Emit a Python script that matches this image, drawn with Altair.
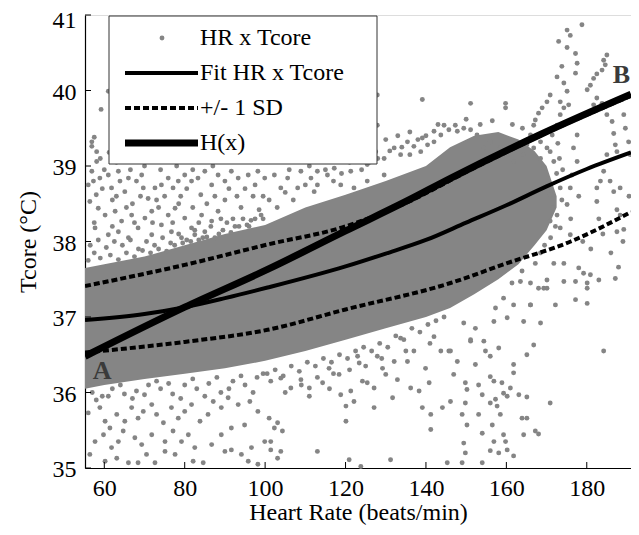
import altair as alt
import pandas as pd

FONT = "Liberation Serif"
GRAY = "#858585"

# axis ticks
hr_ticks = [60, 80, 100, 120, 140, 160, 180]
tc_ticks = [35, 36, 37, 38, 39, 40, 41]

# curves
fit_hr = [55.2, 70, 80, 90, 100.6, 120, 130, 140, 150, 160, 170, 180, 191]
fit_tc = [36.96, 37.04, 37.13, 37.25, 37.39, 37.67, 37.84, 38.02, 38.25, 38.48, 38.73, 38.96, 39.18]

sd_lo_hr = [55.2, 80, 100.6, 120, 146.1, 160, 176, 191]
sd_lo_tc = [36.53, 36.67, 36.83, 37.10, 37.45, 37.71, 38.0, 38.39]

sd_hi_hr = [55.2, 80, 100.6, 120, 135.4, 150, 170, 191]
sd_hi_tc = [37.41, 37.69, 37.96, 38.20, 38.52, 38.92, 39.44, 39.93]

h_hr = [55.2, 80, 100.6, 120, 135, 146.2, 168.6, 191]
h_tc = [36.48, 37.13, 37.63, 38.14, 38.53, 38.84, 39.42, 39.95]

# dense core of the HR x Tcore cloud (envelope)
core_hr = [55.2, 60, 70, 80, 90, 100, 110, 120, 130, 140, 146, 152, 158, 163, 167, 170, 172.5]
core_hi = [37.65, 37.7, 37.8, 37.95, 38.1, 38.22, 38.45, 38.62, 38.8, 39.0, 39.25, 39.4, 39.45, 39.35, 39.2, 39.0, 38.6]
core_lo = [36.05, 36.1, 36.18, 36.25, 36.32, 36.42, 36.55, 36.7, 36.85, 37.0, 37.12, 37.3, 37.5, 37.7, 37.95, 38.15, 38.45]

# individual HR x Tcore points outside the dense core
pts = [
    (59.2, 39.75), (61.0, 39.99), (56.9, 39.32), (56.9, 39.26), (58.1, 39.19), (58.1, 39.06), (61.2, 39.18), (57.5, 39.38),
    (56.9, 38.93), (57.3, 38.80), (58.9, 38.84), (61.0, 38.88), (61.8, 38.71), (63.5, 38.93), (63.9, 38.80), (65.1, 38.66),
    (66.0, 38.84), (68.0, 38.80), (69.3, 38.88), (69.7, 38.71), (70.9, 38.57), (72.6, 38.71), (74.2, 38.75), (75.9, 38.84),
    (77.1, 38.71), (78.4, 38.80), (80.0, 38.88), (81.7, 38.80), (83.3, 38.84), (85.0, 38.93), (86.7, 38.75), (88.3, 38.88),
    (90.0, 38.80), (91.6, 38.93), (93.3, 38.84), (95.8, 38.88), (98.2, 38.93), (99.9, 38.84),
    (56.4, 38.53), (58.5, 38.44), (60.2, 38.35), (62.7, 38.40), (64.3, 38.27), (66.8, 38.35), (68.4, 38.18), (70.1, 38.31),
    (71.8, 38.40), (74.2, 38.22), (75.9, 38.35), (77.6, 38.44), (80.0, 38.31), (81.7, 38.18), (84.2, 38.35), (86.7, 38.27),
    (88.3, 38.40), (57.7, 38.18), (61.0, 38.09), (63.5, 38.13), (66.0, 38.05), (71.8, 38.09), (76.7, 38.13), (79.2, 38.05),
    (82.5, 38.09), (85.0, 38.13), (58.0, 38.62), (62.0, 38.55), (67.0, 38.50), (73.0, 38.55), (79.0, 38.60), (84.0, 38.62),
    (90.0, 38.55), (94.0, 38.45), (97.0, 38.60), (92.0, 38.30), (96.0, 38.20), (99.0, 38.35), (56.0, 38.75), (60.0, 38.95),
    (56.5, 37.95), (58.5, 38.02), (60.5, 37.92), (62.5, 38.0), (64.5, 37.95), (66.5, 38.02), (68.5, 37.9), (70.5, 38.0),
    (72.5, 37.95), (74.5, 38.05), (76.5, 37.98), (78.5, 38.1), (80.5, 38.02), (82.5, 38.15), (84.5, 38.05), (86.5, 38.2),
    (88.5, 38.1), (90.5, 38.25), (92.5, 38.2), (94.5, 38.3), (96.5, 38.28), (98.5, 38.42),
    (57.5, 38.25), (59.5, 38.7), (62.0, 38.2), (63.0, 38.6), (65.5, 38.45), (67.5, 38.25), (69.0, 38.6), (72.0, 38.25),
    (73.5, 38.45), (75.0, 38.6), (77.0, 38.25), (78.5, 38.5), (80.5, 38.7), (82.0, 38.45), (83.5, 38.25), (85.5, 38.5),
    (87.5, 38.6), (89.0, 38.3), (91.0, 38.7), (93.0, 38.6), (95.0, 38.7), (97.5, 38.75), (99.5, 38.6), (59.0, 39.1),
    (63.0, 39.05), (66.5, 38.95), (70.0, 39.0), (74.0, 38.95), (78.0, 39.0), (82.0, 38.95), (87.0, 39.0),
    (56.0, 37.75), (57.5, 37.85), (59.0, 37.78), (61.5, 37.82), (63.5, 37.76), (65.5, 37.85), (67.5, 37.8), (69.5, 37.88),
    (71.5, 37.85), (73.5, 37.9), (75.5, 37.87), (77.5, 37.95), (79.5, 37.98), (81.5, 38.0), (83.5, 38.02), (85.5, 38.06),
    (87.5, 38.05), (89.5, 38.15), (91.5, 38.12), (93.5, 38.2), (95.5, 38.22), (97.5, 38.3), (99.5, 38.3),
    (127.9, 39.94), (139.1, 39.88), (127.9, 39.54), (139.1, 39.37), (127.5, 39.19), (129.6, 39.10), (132.1, 39.24), (133.7, 39.15),
    (135.4, 39.32), (137.0, 39.26), (138.7, 39.19), (140.4, 39.28), (142.0, 39.32), (143.7, 39.41), (144.5, 39.54), (145.7, 39.48),
    (142.0, 39.46), (125.4, 39.02), (123.8, 39.10), (121.3, 38.93), (117.2, 38.97), (115.5, 38.88), (113.0, 38.93), (111.4, 38.84),
    (108.9, 38.93), (105.6, 38.84), (102.3, 38.88), (103.9, 38.71), (108.1, 38.71), (112.2, 38.66), (118.8, 38.75), (122.1, 38.71),
    (125.4, 38.80), (129.6, 38.88),
    (101.0, 38.55), (103.0, 38.45), (105.0, 38.65), (107.0, 38.55), (110.0, 38.75), (113.0, 38.75), (115.0, 38.95), (117.0, 38.8),
    (119.0, 38.9), (121.0, 39.05), (124.0, 38.95), (126.0, 39.05), (128.0, 39.1), (131.0, 39.2), (134.0, 39.25), (136.0, 39.15),
    (138.0, 39.35), (140.0, 39.4), (143.0, 39.55), (130.0, 39.35), (133.0, 39.4), (136.0, 39.45), (120.0, 39.15), (117.0, 39.1),
    (111.0, 39.0), (106.0, 38.95),
    (178.8, 40.87), (175.1, 40.80), (175.9, 40.73), (173.0, 40.65), (175.1, 40.57), (177.2, 40.49), (185.0, 40.47), (184.2, 40.40),
    (184.6, 40.34), (183.8, 40.27), (182.5, 40.22), (181.7, 40.16), (180.9, 40.07), (180.1, 40.01), (177.6, 40.36), (173.8, 40.32),
    (177.2, 40.23), (172.6, 40.18), (174.3, 40.10), (175.1, 39.99), (170.9, 39.94), (170.1, 39.85), (168.9, 39.77), (168.0, 39.70),
    (167.2, 39.61), (166.8, 39.54), (173.4, 39.85), (174.3, 39.77), (175.5, 39.81), (173.4, 39.68), (172.6, 39.54), (171.4, 39.41),
    (170.9, 39.19), (171.8, 39.06), (170.1, 39.24), (169.3, 38.97), (168.5, 39.10), (151.1, 39.83), (159.8, 39.83), (159.8, 39.77),
    (182.5, 39.90), (183.8, 39.83), (181.7, 39.81), (185.0, 39.68), (186.3, 39.59), (186.7, 39.43), (187.1, 39.28), (187.5, 39.19),
    (189.2, 39.68), (189.6, 39.50), (190.4, 39.32), (190.8, 39.15), (185.0, 39.15), (184.2, 38.93), (183.4, 38.80), (182.5, 38.71),
    (182.5, 38.53), (185.8, 38.80), (186.7, 38.66), (188.3, 38.71), (187.5, 38.42), (187.5, 38.13), (189.2, 38.16), (188.3, 38.35),
    (177.6, 39.41), (176.7, 39.24), (177.6, 39.06), (176.3, 38.88), (175.9, 38.71), (170.9, 38.71), (168.5, 39.32), (166.8, 39.24),
    (166.0, 39.41), (165.1, 39.28), (164.3, 39.15), (162.7, 39.24), (161.8, 39.06), (160.2, 39.15), (158.5, 39.24), (157.7, 39.10),
    (156.0, 39.32), (154.4, 39.24), (152.7, 39.41), (151.1, 39.48), (149.4, 39.50), (147.8, 39.46), (147.3, 39.54), (170.9, 38.62),
    (173.4, 38.71), (175.1, 38.49), (172.6, 38.35), (170.9, 38.27), (173.4, 38.18), (175.9, 38.09),
    (176.0, 38.30), (179.0, 38.00), (181.0, 37.90), (184.0, 38.10), (186.0, 37.85), (189.0, 38.00), (190.5, 38.60), (178.0, 38.60),
    (183.0, 38.30),
    (172.5, 38.9), (173.2, 39.1), (172.8, 39.3), (171.5, 38.45), (172.2, 38.2), (171.0, 38.05), (169.5, 37.95), (168.5, 37.85),
    (173.8, 38.55), (174.0, 38.95), (161.5, 39.55), (164.0, 39.5), (156.5, 39.6), (153.5, 39.55), (150.0, 39.62),
    (56.0, 35.73), (58.9, 35.80), (60.2, 35.62), (61.4, 35.53), (63.1, 35.71), (65.1, 35.62), (66.8, 35.80), (68.4, 35.66),
    (69.7, 35.75), (71.8, 35.84), (73.0, 35.71), (74.7, 35.60), (76.7, 35.80), (78.4, 35.66), (80.0, 35.75), (81.7, 35.84),
    (83.8, 35.62), (85.8, 35.71), (87.1, 35.88), (89.1, 35.80), (90.8, 35.93), (93.3, 35.84), (96.2, 35.88), (98.2, 35.75),
    (57.7, 35.35), (59.8, 35.44), (61.8, 35.27), (63.5, 35.35), (64.7, 35.49), (67.6, 35.40), (69.3, 35.31), (71.8, 35.44),
    (75.1, 35.35), (77.1, 35.49), (79.2, 35.35), (80.9, 35.44), (82.5, 35.27), (86.7, 35.31), (89.1, 35.44), (91.6, 35.53),
    (94.9, 35.57), (96.6, 35.27), (99.9, 35.35),
    (56.4, 35.18), (60.2, 35.09), (63.1, 35.13), (66.0, 35.07), (68.4, 35.07), (70.5, 35.18), (72.6, 35.07), (75.1, 35.22),
    (77.6, 35.18), (82.1, 35.09), (84.6, 35.07), (90.0, 35.22), (91.6, 35.24), (94.1, 35.18), (95.8, 35.09), (98.2, 35.05),
    (57.0, 36.00), (59.5, 35.95), (62.0, 36.05), (65.0, 35.98), (68.0, 36.02), (71.0, 36.10), (74.0, 36.05), (77.0, 35.98),
    (80.0, 36.10), (83.0, 36.05), (86.0, 36.12), (89.0, 36.00), (92.0, 36.15), (95.0, 36.10), (98.0, 36.20),
    (56.0, 36.1), (58.0, 35.9), (61.0, 35.95), (64.0, 36.1), (67.0, 35.92), (70.0, 35.97), (73.0, 36.15), (76.0, 36.12),
    (79.0, 35.92), (82.0, 36.18), (85.0, 35.95), (88.0, 36.2), (91.0, 36.05), (94.0, 36.22), (97.0, 36.0), (99.5, 36.25),
    (101.4, 36.15), (103.9, 36.19), (106.4, 36.06), (108.9, 36.17), (111.0, 36.06), (114.3, 36.13), (115.9, 36.32), (118.4, 36.24),
    (118.8, 35.97), (120.1, 35.82), (120.1, 35.62), (121.3, 36.02), (122.1, 35.88), (123.0, 36.48), (123.4, 36.39), (124.2, 36.15),
    (125.4, 36.13), (127.1, 36.06), (127.1, 35.80), (127.9, 36.48), (129.2, 36.32), (130.0, 36.24), (131.7, 35.93), (132.1, 36.41),
    (132.9, 36.17), (133.7, 36.72), (135.4, 36.41), (136.2, 36.06), (137.0, 36.55), (138.3, 36.02), (139.1, 35.80), (139.9, 36.32),
    (140.8, 36.13), (141.2, 35.71), (141.2, 35.51), (142.0, 36.74), (143.7, 36.55), (144.1, 35.80), (145.7, 36.55),
    (100.5, 36.25), (102.5, 36.3), (104.5, 36.22), (106.5, 36.35), (108.5, 36.28), (110.5, 36.4), (112.5, 36.35), (114.5, 36.45),
    (116.5, 36.4), (118.5, 36.5), (120.5, 36.45), (122.5, 36.55), (124.5, 36.6), (126.5, 36.55), (128.5, 36.65), (130.5, 36.6),
    (132.5, 36.75), (134.5, 36.7), (136.5, 36.85), (138.5, 36.8), (140.5, 36.9), (142.5, 36.95), (144.5, 37.0), (109.0, 36.1),
    (113.0, 36.2), (117.0, 36.25), (121.0, 36.3), (125.0, 36.35), (129.0, 36.45), (135.0, 36.55), (141.0, 36.65), (105.0, 36.0),
    (111.0, 35.95), (116.0, 36.05),
    (101.0, 35.66), (101.4, 35.35), (102.3, 35.53), (103.1, 35.60), (104.3, 35.49), (103.9, 35.22), (101.4, 35.24), (103.1, 35.13),
    (113.0, 35.22), (120.9, 35.11), (123.8, 35.02), (131.2, 35.11), (145.3, 35.07),
    (146.1, 36.55), (146.9, 36.24), (147.8, 36.41), (146.1, 35.88), (149.8, 36.13), (150.2, 36.04), (149.8, 35.86), (149.0, 35.71),
    (150.2, 35.57), (149.4, 35.33), (149.8, 35.20), (149.0, 35.07), (151.1, 36.68), (152.3, 36.37), (153.1, 36.10), (154.0, 35.97),
    (153.1, 35.71), (154.0, 35.46), (154.0, 35.07), (154.8, 36.55), (156.0, 36.48), (156.0, 36.21), (156.9, 36.15), (156.0, 35.86),
    (157.3, 35.91), (157.7, 35.82), (156.5, 35.57), (156.9, 35.35), (156.0, 35.23), (158.1, 36.59), (158.9, 36.13), (159.3, 35.99),
    (160.2, 35.95), (158.5, 35.71), (158.1, 35.20), (159.3, 35.44), (159.8, 35.35), (160.2, 35.24), (161.8, 35.16), (161.0, 36.06),
    (161.8, 36.37), (161.8, 36.26), (163.1, 35.97), (163.9, 35.66), (165.1, 35.66), (164.3, 35.44), (165.1, 35.94), (165.1, 36.50),
    (166.8, 36.63), (167.2, 35.49), (168.0, 35.45), (170.9, 35.86), (184.2, 36.55), (168.5, 36.92), (169.3, 37.38), (166.0, 37.16),
    (164.3, 36.94), (159.3, 37.25), (160.2, 36.99), (157.3, 37.12), (156.9, 36.94), (154.4, 36.68), (152.3, 36.85), (151.1, 36.70),
    (149.4, 36.92),
    (171.8, 37.71), (174.3, 37.71), (178.0, 37.65), (179.2, 37.58), (180.9, 37.56), (180.1, 37.45), (180.1, 37.38), (177.2, 37.47),
    (177.2, 37.23), (180.1, 37.18), (183.0, 37.49), (187.1, 37.51), (187.9, 37.66), (174.3, 37.47), (172.2, 37.16), (170.1, 37.49),
    (170.1, 37.38), (168.0, 37.38), (166.0, 37.45), (166.0, 37.16), (167.2, 37.71), (163.9, 37.61), (163.5, 37.47), (161.8, 37.16),
    (161.4, 37.45),
]
pt_hr = [p[0] for p in pts]
pt_tc = [p[1] for p in pts]

legend_labels = ["HR x Tcore", "Fit HR x Tcore", "+/- 1 SD", "H(x)"]

W, H = 546, 453
xs = alt.Scale(domain=[55.2, 191], nice=False, zero=False)
ys = alt.Scale(domain=[35, 41], nice=False, zero=False)

xaxis = alt.Axis(values=hr_ticks, format="d", title="Heart Rate (beats/min)", grid=False, ticks=False, tickSize=0,
                 domainColor="black", domainWidth=1.2, labelFont=FONT, labelFontSize=24, labelColor="black",
                 labelPadding=8, titleFont=FONT, titleFontSize=24, titleFontWeight="normal", titleColor="black",
                 titlePadding=0)
yaxis = alt.Axis(values=tc_ticks, format="d", title="Tcore (°C)", grid=False, ticks=False, tickSize=0,
                 domainColor="black", domainWidth=1.2, labelFont=FONT, labelFontSize=24, labelColor="black",
                 labelPadding=9, labelOffset={"condition": {"test": "datum.value == 41", "value": 5}, "value": 1.5},
                 titleFont=FONT, titleFontSize=24, titleFontWeight="normal", titleColor="black",
                 titlePadding=12)

core_df = pd.DataFrame({"hr": core_hr, "hi": core_hi, "lo": core_lo})
core = alt.Chart(core_df).mark_area(color=GRAY, opacity=1).encode(
    x=alt.X("hr:Q", scale=xs, axis=xaxis),
    y=alt.Y("hi:Q", scale=ys, axis=yaxis),
    y2="lo:Q",
)

pts_df = pd.DataFrame({"hr": pt_hr, "tc": pt_tc})
points = alt.Chart(pts_df).mark_circle(color=GRAY, size=24, opacity=1).encode(
    x=alt.X("hr:Q", scale=xs), y=alt.Y("tc:Q", scale=ys))

def line(hr, tc, width, dash=None):
    df = pd.DataFrame({"hr": hr, "tc": tc})
    kw = dict(color="black", strokeWidth=width, clip=True, interpolate="monotone")
    if dash:
        kw["strokeDash"] = dash
    return alt.Chart(df).mark_line(**kw).encode(
        x=alt.X("hr:Q", scale=xs), y=alt.Y("tc:Q", scale=ys))

fit_line = line(fit_hr, fit_tc, 4)
lo_line = line(sd_lo_hr, sd_lo_tc, 4, [6, 3])
hi_line = line(sd_hi_hr, sd_hi_tc, 4, [6, 3])
h_line = line(h_hr, h_tc, 7)

# inward ticks
xt = alt.Chart(pd.DataFrame({"v": hr_ticks})).mark_rule(color="black", strokeWidth=1).encode(
    x=alt.X("v:Q", scale=xs), y=alt.value(H), y2=alt.value(H - 6))
yt = alt.Chart(pd.DataFrame({"v": tc_ticks})).mark_rule(color="black", strokeWidth=1).encode(
    y=alt.Y("v:Q", scale=ys), x=alt.value(0), x2=alt.value(6))

# A / B labels
lab_df = pd.DataFrame({"hr": [59.45, 188.6], "tc": [36.28, 40.21], "t": ["A", "B"]})
labels = alt.Chart(lab_df).mark_text(font=FONT, fontSize=26, fontWeight="bold", color="#3a3a3a").encode(
    x=alt.X("hr:Q", scale=xs), y=alt.Y("tc:Q", scale=ys), text="t:N")

# legend (drawn by hand)
one = pd.DataFrame({"a": [0]})
lg_box = alt.Chart(one).mark_rect(fill="white", stroke="#333", strokeWidth=1).encode(
    x=alt.value(24), x2=alt.value(292), y=alt.value(1), y2=alt.value(149))
rows = [23, 58, 93, 128]
lg_dot = alt.Chart(one).mark_circle(color=GRAY, size=24, opacity=1).encode(x=alt.value(77), y=alt.value(rows[0]))
lg_fit = alt.Chart(one).mark_rule(color="black", strokeWidth=4).encode(
    x=alt.value(40), x2=alt.value(113), y=alt.value(rows[1]))
lg_sd = alt.Chart(one).mark_rule(color="black", strokeWidth=4, strokeDash=[6, 3]).encode(
    x=alt.value(40), x2=alt.value(113), y=alt.value(rows[2]))
lg_h = alt.Chart(one).mark_rule(color="black", strokeWidth=7).encode(
    x=alt.value(40), x2=alt.value(113), y=alt.value(rows[3]))
lg_text = alt.Chart(pd.DataFrame({"t": legend_labels, "r": rows})).mark_text(
    font=FONT, fontSize=24, color="black", align="left", baseline="middle").encode(
    x=alt.value(115), y=alt.Y("r:Q", scale=None), text="t:N")

chart = alt.layer(
    core, points, lo_line, hi_line, fit_line, h_line, xt, yt, labels,
    lg_box, lg_dot, lg_fit, lg_sd, lg_h, lg_text,
).properties(
    width=W, height=H,
    autosize=alt.AutoSizeParams(type="none"),
    padding={"left": 77, "top": 7, "right": 0, "bottom": 59},
).configure_view(stroke=None).configure(background="white")

chart.save("out.html", embed_options={"renderer": "svg", "actions": False})
